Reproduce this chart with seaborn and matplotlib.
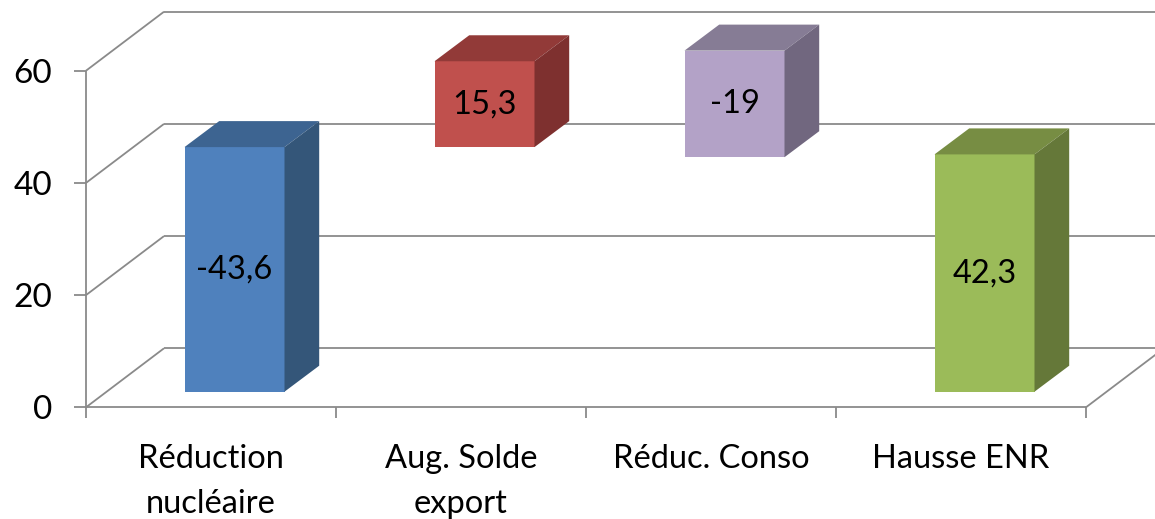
import numpy as np
import matplotlib
matplotlib.use("Agg")
import matplotlib.pyplot as plt
from matplotlib.patches import Polygon
import seaborn as sns

# ---- data ----
categories = ["Réduction\nnucléaire", "Aug. Solde\nexport", "Réduc. Conso", "Hausse ENR"]
changes = [-43.6, 15.3, -19, 42.3]          # signed contribution of each step
bases = [0, 43.6, 41.8, 0]                  # floating start of each column
value_labels = ["-43,6", "15,3", "-19", "42,3"]
y_ticks = [0, 20, 40, 60]

front_colors = ["#4F81BD", "#C0504D", "#B3A2C7", "#9BBB59"]
top_colors = ["#3D6491", "#923A38", "#867C95", "#778D43"]
side_colors = ["#345679", "#7E302F", "#71677F", "#657839"]
GRID = "#8A8A8A"

# ---- figure / plot-area geometry ----
W, H = 1155, 519
sns.set_theme(style="white")
plt.rcParams["font.family"] = ["Lato", "DejaVu Sans"]

fig = plt.figure(figsize=(W / 100, H / 100), dpi=100)
px_left, px_right = 86, 1086      # front floor edge
px_zero, px_top = 407.3, 70.7     # value 0 and value 60 on the front-left axis
ax = fig.add_axes([px_left / W, 1 - px_zero / H,
                   (px_right - px_left) / W, (px_zero - px_top) / H])

n = len(categories)
PX_X = (px_right - px_left) / n               # pixels per category
PX_Y = (px_zero - px_top) / 60                # pixels per value unit
# oblique projection offsets, in data units
DX, DY = 78 / PX_X, 59 / PX_Y                 # full floor depth
FX, FY = 23.5 / PX_X, 15.6 / PX_Y             # front plane of the columns
BX, BY = 34.7 / PX_X, 26.0 / PX_Y             # depth of a column

xL, xR = -0.5 - FX, n - 0.5 - FX
yF = -FY

# ---- front faces of the columns ----
heights = np.abs(changes)
sns.barplot(x=categories, y=heights, bottom=bases, width=0.4,
            color=front_colors[0], saturation=1, linewidth=0, zorder=3, ax=ax)
bars = list(ax.patches)
for p, c in zip(bars, front_colors):
    p.set_facecolor(c)
    p.set_edgecolor("none")
    p.set_clip_on(False)

# ---- top and side faces ----
for p, tc, sc, lab in zip(bars, top_colors, side_colors, value_labels):
    x0, y0 = p.get_x(), p.get_y()
    x1, y1 = x0 + p.get_width(), y0 + p.get_height()
    ax.add_patch(Polygon([(x0, y1), (x1, y1), (x1 + BX, y1 + BY), (x0 + BX, y1 + BY)],
                         closed=True, facecolor=tc, edgecolor="none", zorder=3,
                         clip_on=False))
    ax.add_patch(Polygon([(x1, y0), (x1 + BX, y0 + BY), (x1 + BX, y1 + BY), (x1, y1)],
                         closed=True, facecolor=sc, edgecolor="none", zorder=3,
                         clip_on=False))
    ax.text((x0 + x1) / 2, (y0 + y1) / 2, lab, ha="center", va="center",
            fontsize=23.5, color="black", zorder=5, clip_on=False)

# ---- walls, floor and gridlines ----
lkw = dict(color=GRID, lw=1.3, clip_on=False, zorder=1, solid_capstyle="butt")
for t in y_ticks:
    yt = t - FY
    ax.plot([xL, xL + DX], [yt, yt + DY], **lkw)
    ax.plot([xL + DX, xR + DX + 0.2], [yt + DY, yt + DY], **lkw)
ax.plot([xL, xL], [yF, y_ticks[-1] - FY], **lkw)
ax.plot([xL, xR], [yF, yF], **lkw)
ax.plot([xR, xR + DX], [yF, yF + DY], **lkw)

ax.set_xlim(xL, xR)
ax.set_ylim(yF, y_ticks[-1] - FY)
for s in ax.spines.values():
    s.set_visible(False)
ax.patch.set_alpha(0)

# value axis
ax.set_yticks([t - FY for t in y_ticks], labels=[str(t) for t in y_ticks])
ax.tick_params(axis="y", which="major", left=True, direction="out", length=8.6,
               width=1.3, color=GRID, pad=16, labelsize=24, labelcolor="black")

# category axis: labels centred on floor slots, tick marks at slot boundaries
ax.set_xticks([i - FX for i in range(n)], labels=categories)
ax.set_xticks([i - 0.5 - FX for i in range(n + 1)], minor=True)
ax.tick_params(axis="x", which="major", bottom=True, length=0, pad=26.5,
               labelsize=23.5, labelcolor="black")
ax.tick_params(axis="x", which="minor", bottom=True, direction="out", length=7.9,
               width=1.3, color=GRID)
for lab in ax.get_xticklabels():
    lab.set_linespacing(1.6)
ax.set_xlabel("")
ax.set_ylabel("")

fig.savefig("out.png", dpi=100, facecolor="white")
